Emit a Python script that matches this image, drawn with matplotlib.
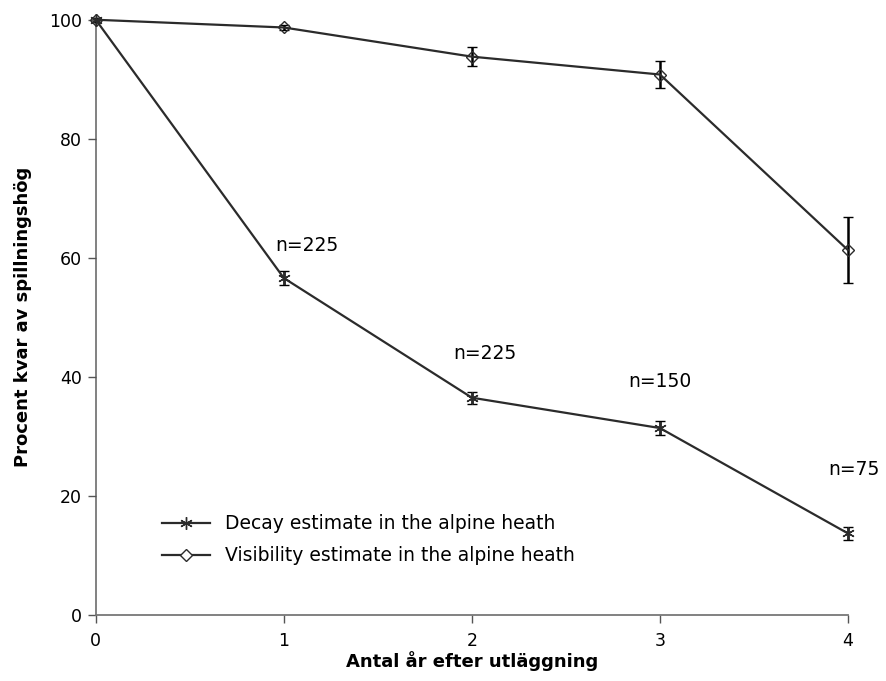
import numpy as np
import matplotlib
matplotlib.use("Agg")
import matplotlib.pyplot as plt
from matplotlib.lines import Line2D

plt.rcParams["font.family"] = ["DejaVu Sans"]

years = [0, 1, 2, 3, 4]
decay = [100, 56.6, 36.5, 31.4, 13.7]
decay_err = [0.3, 1.2, 1.0, 1.2, 1.1]
visibility = [100, 98.7, 93.8, 90.8, 61.3]
visibility_err = [0.3, 0.5, 1.6, 2.3, 5.6]

n_labels = ["n=225", "n=225", "n=150", "n=75"]
n_x = [1.12, 2.07, 3.0, 4.03]
n_y = [62, 44, 39.2, 24.5]

line_col = "#2b2b2b"

fig = plt.figure(figsize=(8.87, 6.81), dpi=100)
ax = fig.add_axes([0.108, 0.097, 0.848, 0.874])

ax.errorbar(years, decay, yerr=decay_err, color=line_col, lw=1.6,
            marker=(6, 2, 0), ms=9, mew=1.0, mec=line_col,
            ecolor="black", elinewidth=1.8, capsize=3.6, capthick=1.8,
            zorder=3, clip_on=False)
ax.errorbar(years, visibility, yerr=visibility_err, color=line_col, lw=1.6,
            marker="D", ms=6.5, mfc="none", mew=1.0, mec=line_col,
            ecolor="black", elinewidth=1.8, capsize=3.6, capthick=1.8,
            zorder=3, clip_on=False)

for lab, x, y in zip(n_labels, n_x, n_y):
    ax.text(x, y, lab, fontsize=13.5, ha="center", va="center", color="black")

ax.set_xlim(0, 4)
ax.set_ylim(0, 100)
ax.set_xticks(years)
ax.set_yticks([0, 20, 40, 60, 80, 100])
ax.tick_params(labelsize=12.5, length=6, width=1, color="#555555", pad=4)
ax.tick_params(axis="x", pad=6)

for s in ["top", "right"]:
    ax.spines[s].set_visible(False)
for s in ["left", "bottom"]:
    ax.spines[s].set_color("#777777")
    ax.spines[s].set_linewidth(1.3)
ax.spines["left"].set_zorder(1)

ax.set_xlabel("Antal år efter utläggning", fontsize=13, fontweight="bold", labelpad=1)
ax.set_ylabel("Procent kvar av spillningshög", fontsize=13, fontweight="bold", labelpad=12)

handles = [
    Line2D([], [], color=line_col, lw=1.6, marker=(6, 2, 0), ms=9, mew=1.0),
    Line2D([], [], color=line_col, lw=1.6, marker="D", ms=6.5, mfc="white", mew=1.0),
]
labels = ["Decay estimate in the alpine heath", "Visibility estimate in the alpine heath"]
ax.legend(handles, labels, loc="lower left", bbox_to_anchor=(0.065, 0.055), frameon=False,
          fontsize=13.5, handlelength=2.6, handletextpad=0.8, labelspacing=0.7)

fig.savefig("out.png", dpi=100)
